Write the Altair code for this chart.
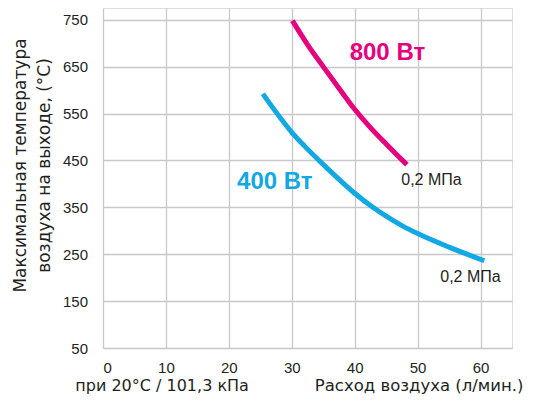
import altair as alt
import pandas as pd

# ---- data ----
blue_x = [25.4, 27.0, 30.0, 32.0, 34.4, 37.0, 40.0, 43.0, 45.0, 47.5, 50.0, 55.0, 60.6]
blue_y = [592, 562, 510, 481, 449, 416, 380, 349, 331, 311, 294, 265, 236]
red_x = [30.1, 32.5, 35.0, 37.5, 40.0, 42.5, 45.0, 47.6, 48.3]
red_y = [748, 697, 650, 604, 559, 520, 485, 450, 441]

series_names = ["400 Вт", "800 Вт"]
series_colors = ["#12A8E4", "#E6007E"]

x_ticks = [0, 10, 20, 30, 40, 50, 60]
y_ticks = [50, 150, 250, 350, 450, 550, 650, 750]

# label annotations (data coordinates)
big_labels = ["400 Вт", "800 Вт"]
big_label_x = [27.3, 45.2]
big_label_y = [404, 678]
small_labels = ["0,2 МПа", "0,2 МПа"]
small_label_x = [58.4, 52.2]
small_label_y = [201, 408]
cond_label = ["при 20°C / 101,3 кПа"]
cond_label_x = [-4.4]
cond_label_y = [-30]

y_title = ["Максимальная температура", "воздуха на выходе, (°C)"]
x_title = "Расход воздуха (л/мин.)"

FONT = "Liberation Sans"
TFONT = "DejaVu Sans"
TEXT = "#231F20"

lines_df = pd.DataFrame(
    {
        "x": blue_x + red_x,
        "y": blue_y + red_y,
        "series": [series_names[0]] * len(blue_x) + [series_names[1]] * len(red_x),
        "order": list(range(len(blue_x))) + list(range(len(red_x))),
    }
)
big_df = pd.DataFrame({"x": big_label_x, "y": big_label_y, "text": big_labels})
small_df = pd.DataFrame({"x": small_label_x, "y": small_label_y, "text": small_labels})
cond_df = pd.DataFrame({"x": cond_label_x, "y": cond_label_y, "text": cond_label})

xscale = alt.Scale(domain=[0, 65], nice=False, zero=False)
yscale = alt.Scale(domain=[50, 775], nice=False, zero=False)
cscale = alt.Scale(domain=series_names, range=series_colors)

x_axis = alt.Axis(
    values=x_ticks,
    title=x_title,
    ticks=False,
    domain=False,
    labelFont=FONT,
    labelFontSize=15,
    labelColor=TEXT,
    labelPadding=19,
    labelBaseline="middle",
    titleFont=TFONT,
    titleFontSize=16.5,
    titleFontWeight="normal",
    titleColor=TEXT,
    titleX=420,
    titleY=37.5,
    titleAlign="right",
    titleBaseline="middle",
    gridColor="#C8C8C8",
    gridWidth=1.3,
)
y_axis = alt.Axis(
    values=y_ticks,
    title=y_title,
    ticks=False,
    domain=False,
    labelFont=FONT,
    labelFontSize=15,
    labelColor=TEXT,
    labelPadding=15.5,
    titleFont=TFONT,
    titleFontSize=17,
    titleFontWeight="normal",
    titleColor=TEXT,
    titleX=-82.7,
    titleY=157,
    titleAlign="center",
    titleBaseline="middle",
    titleLineHeight=24,
    gridColor="#C8C8C8",
    gridWidth=1.3,
)

lines = (
    alt.Chart(lines_df)
    .mark_line(interpolate="monotone", strokeWidth=5, strokeCap="butt")
    .encode(
        x=alt.X("x:Q", scale=xscale, axis=x_axis),
        y=alt.Y("y:Q", scale=yscale, axis=y_axis),
        color=alt.Color("series:N", scale=cscale, legend=None),
        detail="series:N",
        order="order:Q",
    )
)

big = (
    alt.Chart(big_df)
    .mark_text(font=FONT, fontSize=24, fontWeight="bold", align="center", baseline="middle")
    .encode(
        x=alt.X("x:Q", scale=xscale),
        y=alt.Y("y:Q", scale=yscale),
        text="text:N",
        color=alt.Color("text:N", scale=cscale, legend=None),
    )
)

small = (
    alt.Chart(small_df)
    .mark_text(font=FONT, fontSize=16, align="center", baseline="middle", color=TEXT)
    .encode(
        x=alt.X("x:Q", scale=xscale),
        y=alt.Y("y:Q", scale=yscale),
        text="text:N",
    )
)

cond = (
    alt.Chart(cond_df)
    .mark_text(font=TFONT, fontSize=16, align="left", baseline="middle", color=TEXT)
    .encode(
        x=alt.X("x:Q", scale=xscale),
        y=alt.Y("y:Q", scale=yscale),
        text="text:N",
    )
)

chart = (
    alt.layer(lines, big, small, cond)
    .properties(
        width=409,
        height=340,
        autosize=alt.AutoSizeParams(type="none"),
        padding={"left": 95, "top": 0, "right": 13, "bottom": 48},
    )
    .configure_view(stroke=None, fill="#EBEBED")
    .configure(background="white")
)

chart.save("out.html", embed_options={"renderer": "svg", "actions": False})
